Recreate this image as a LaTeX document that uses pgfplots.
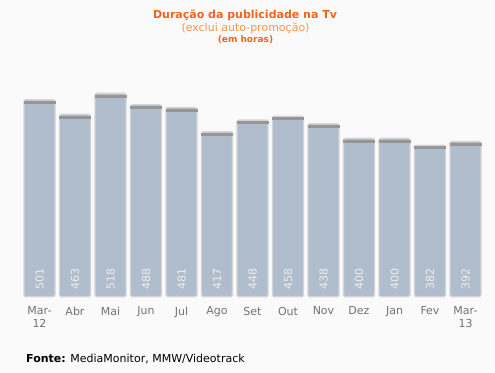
\documentclass[border=0pt]{standalone}
\usepackage{pgfplots}
\pgfplotsset{compat=1.18}
\usepackage{pgfplotstable}
\usepackage{fontspec}
\setmainfont{DejaVu Sans}
\definecolor{bgc}{RGB}{250,250,250}
\definecolor{barfill}{RGB}{176,189,204}
\definecolor{barborder}{RGB}{212,212,212}
\definecolor{capc}{RGB}{150,150,150}
\definecolor{titleor}{RGB}{240,100,30}
\definecolor{subor}{RGB}{245,150,75}
\definecolor{tickgray}{RGB}{120,112,115}
\pgfdeclareplotmark{cap}{%
  \pgfpathrectangle{\pgfpoint{-16pt}{-4.2pt}}{\pgfpoint{32pt}{3pt}}%
  \pgfusepathqfill}
\pgfplotstableread{
x v
0 501
1 463
2 518
3 488
4 481
5 417
6 448
7 458
8 438
9 400
10 400
11 382
12 392
}\datatab
\begin{document}
\begin{tikzpicture}
\fill[bgc] (0,0) rectangle (495pt,372pt);
\path[use as bounding box] (0,0) rectangle (495pt,372pt);
\begin{axis}[
  at={(21.75pt,75.3pt)}, anchor=south west,
  scale only axis, width=461.5pt, height=220pt,
  xmin=-0.5, xmax=12.5, ymin=0, ymax=575.9,
  hide y axis,
  axis x line*=bottom, x axis line style={draw=none},
  xtick=data, xtick style={draw=none}, major tick length=0pt,
  xticklabels={{Mar-\\12},Abr,Mai,Jun,Jul,Ago,Set,Out,Nov,Dez,Jan,Fev,{Mar-\\13}},
  xticklabel style={align=center, inner sep=0pt, yshift=-10pt,
     font=\fontsize{11}{13}\selectfont, text=tickgray},
  /pgf/number format/assume math mode=true,
  clip=false,
]
\addplot[ybar, bar width=31pt, bar shift=0pt, fill=barfill, draw=barborder,
  line width=1.4pt, rounded corners=1.5pt]
  table[x=x, y expr=\thisrow{v}+14.4] {\datatab};
\addplot[only marks, mark=cap, mark options={fill=capc, draw=none}]
  table[x=x, y expr=\thisrow{v}+14.4] {\datatab};
\addplot[draw=none, mark=none, nodes near coords, point meta=explicit,
  nodes near coords style={rotate=90, anchor=west, inner sep=0pt,
    font=\fontsize{11}{13}\selectfont, text=white!93!black,
    /pgf/number format/assume math mode=true}]
  table[x=x, y expr=19.4, meta=v] {\datatab};
\end{axis}
\node[text=titleor, font=\bfseries\fontsize{11}{13}\selectfont] at (245pt,357pt) {Duração da publicidade na Tv};
\node[text=subor, font=\fontsize{11}{13}\selectfont] at (245.5pt,344pt) {(exclui auto-promoção)};
\node[text=titleor, font=\bfseries\fontsize{9}{11}\selectfont] at (245.5pt,332.5pt) {(em horas)};
\node[anchor=west, inner sep=0pt, font=\fontsize{11}{13}\selectfont] at (26pt,13pt) {\textbf{Fonte:} MediaMonitor, MMW/Videotrack};
\end{tikzpicture}
\end{document}
